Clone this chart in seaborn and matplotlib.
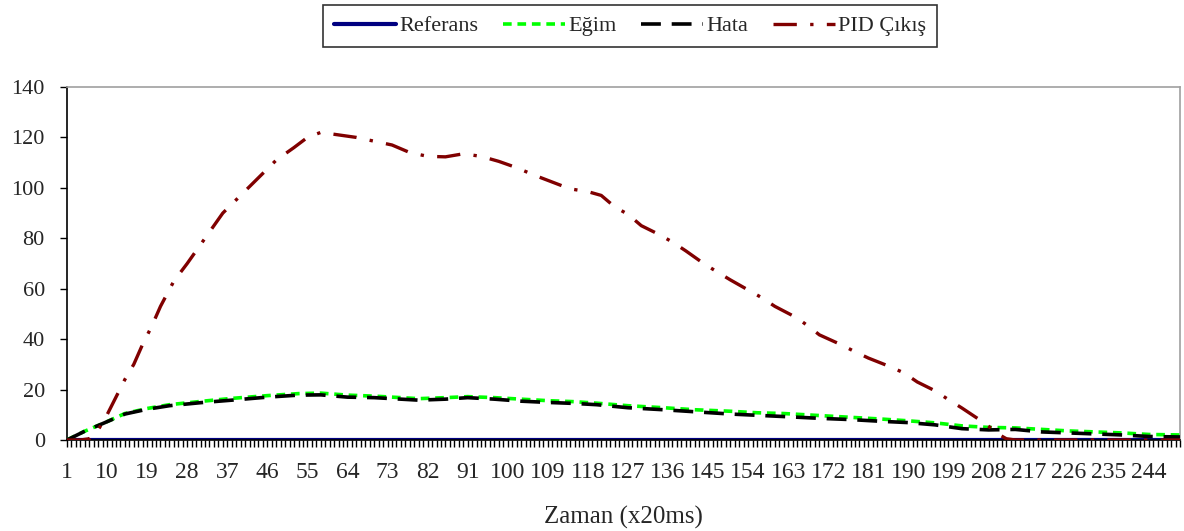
import numpy as np
import pandas as pd
import seaborn as sns
import matplotlib.pyplot as plt
from matplotlib.lines import Line2D
from matplotlib.ticker import MultipleLocator, FixedLocator

# Zaman ekseni (kategori 1..251)
n_kategori = 251

# Referans: tüm süre boyunca 0
ref_x = [1, 251]
ref_y = [0, 0]

# Eğim
egim_x = [1, 5, 9, 14, 19, 24, 31, 38, 46, 53, 58, 64, 70, 76, 80, 86, 91, 97, 103, 109,
          115, 120, 127, 135, 142, 150, 156, 162, 170, 177, 184, 190, 196, 202, 208, 214,
          220, 226, 232, 238, 244, 251]
egim_y = [0, 3.5, 6.5, 10.5, 12.5, 14.0, 15.3, 16.5, 17.6, 18.4, 18.6, 17.8, 17.4, 16.8, 16.4,
          16.8, 17.2, 16.8, 16.2, 15.6, 15.2, 14.6, 13.6, 12.8, 12.0, 11.4, 10.8, 10.5, 9.7, 9.0,
          8.3, 7.6, 6.8, 5.6, 5.0, 4.8, 4.2, 3.6, 3.2, 2.8, 2.2, 2.0]

# Hata
hata_x = egim_x
hata_y = [0, 3.5, 6.5, 10.3, 12.2, 13.6, 14.8, 15.8, 17.0, 17.8, 17.9, 17.0, 16.8, 16.2, 15.8,
          16.2, 16.8, 16.2, 15.4, 14.9, 14.5, 14.0, 12.8, 12.0, 11.2, 10.3, 9.8, 9.3, 8.6, 8.1,
          7.4, 6.9, 6.0, 4.5, 4.0, 4.2, 3.2, 2.8, 2.4, 2.0, 1.4, 1.2]

# PID çıkışı
pid_x = [1, 4, 6, 8, 10, 12, 14, 16, 18, 20, 22, 25, 28, 32, 36, 40, 44, 48, 52, 55, 58, 62,
         66, 70, 74, 78, 82, 86, 90, 94, 98, 102, 106, 110, 114, 118, 121, 124, 127, 130, 134,
         137, 140, 144, 147, 150, 154, 157, 160, 165, 168, 170, 175, 178, 181, 186, 189, 192,
         196, 199, 202, 206, 208.5, 210, 212, 214, 251]
pid_y = [0, 0, 0.5, 4, 10, 17, 24, 30, 38, 45, 53, 63, 70, 80, 90, 97, 104, 111, 116, 120, 122,
         121, 120, 118.5, 117, 114, 112.5, 112.3, 113.5, 112.5, 110.5, 108, 105, 102.3, 99.6,
         98.5, 97, 92.5, 89.5, 85, 81.5, 78.5, 75, 70, 66.7, 63.5, 59.5, 56.5, 53, 48.4, 44.5,
         41.7, 37.7, 35, 32.5, 29, 26.6, 23, 19.5, 16, 12.7, 8, 4.8, 2.5, 0.5, 0, 0]

x_etiketler = list(range(1, 245, 9))
y_etiketler = list(range(0, 141, 20))

sns.set_style("white")
plt.rcParams['font.family'] = ['Liberation Serif', 'DejaVu Serif']

fig = plt.figure(figsize=(11.84, 5.31), dpi=100)
ax = fig.add_axes([67 / 1184, 1 - 440 / 531, (1180 - 67) / 1184, (440 - 87) / 531])

stiller = [
    ("Referans", ref_x, ref_y, "#000080", "-", 3.0),
    ("Eğim", egim_x, egim_y, "#00FF00", (0, (2.4, 1.6)), 2.6),
    ("Hata", hata_x, hata_y, "#000000", (0, (5.5, 3.0)), 2.6),
    ("PID Çıkış", pid_x, pid_y, "#800000", (0, (7, 4, 1, 4)), 2.4),
]

for ad, xs, ys, renk, cizgi, kalinlik in stiller:
    sns.lineplot(x=xs, y=ys, ax=ax, color=renk, linestyle=cizgi, linewidth=kalinlik,
                 estimator=None, sort=False, zorder=3 if ad != "Referans" else 2)

ax.set_xlim(1, n_kategori)
ax.set_ylim(0, 140)
ax.xaxis.set_major_locator(FixedLocator(x_etiketler))
ax.set_xticklabels([str(v) for v in x_etiketler])
ax.xaxis.set_minor_locator(MultipleLocator(1))
ax.set_yticks(y_etiketler)

ax.tick_params(axis='x', which='both', direction='out', length=5, width=1, color='black',
               bottom=True, pad=11, labelsize=17)
ax.tick_params(axis='y', direction='out', length=5, width=1, color='black',
               left=True, pad=11, labelsize=16)

for s in ['left', 'bottom']:
    ax.spines[s].set_color('black')
    ax.spines[s].set_linewidth(1.2)
for s in ['top', 'right']:
    ax.spines[s].set_color('#a0a0a0')
    ax.spines[s].set_linewidth(1.2)

ax.set_xlabel("Zaman (x20ms)", fontsize=18, labelpad=16)
ax.set_ylabel("")
ax.grid(False)

handles = [Line2D([0], [0], color=r, linestyle=c, linewidth=k) for _, _, _, r, c, k in stiller]
labels = [ad for ad, *_ in stiller]
leg = fig.legend(handles, labels, loc='center', bbox_to_anchor=(630 / 1184, 1 - 26 / 531),
                 ncol=4, frameon=True, fancybox=False, fontsize=16, handlelength=2.8,
                 columnspacing=1.1, handletextpad=0.15, borderpad=0.5)
leg.get_frame().set_edgecolor('black')
leg.get_frame().set_linewidth(1.2)

fig.savefig("out.png", dpi=100)
